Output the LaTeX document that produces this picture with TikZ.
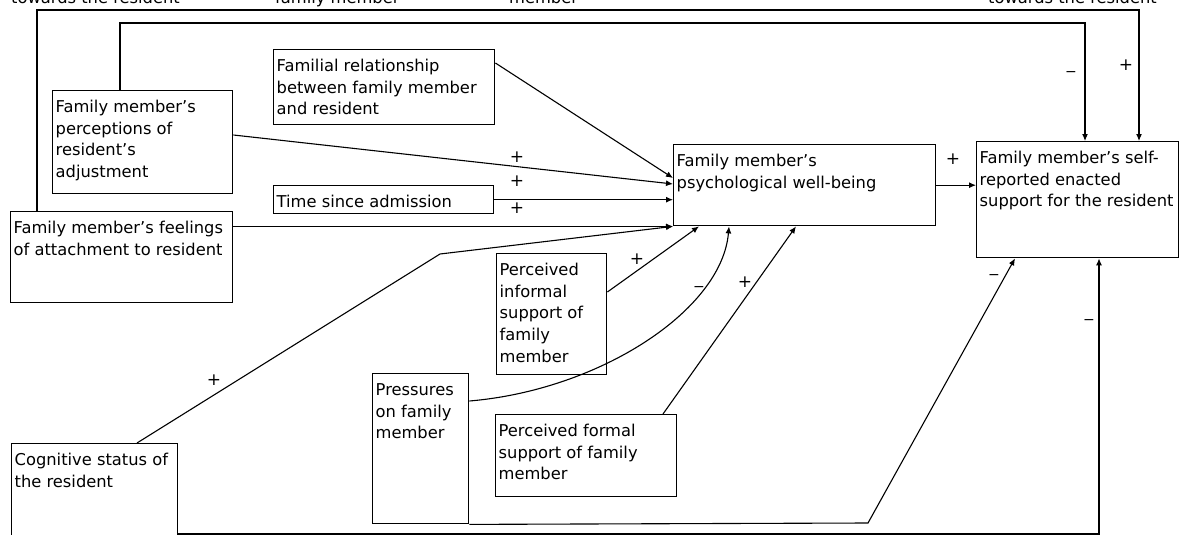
\documentclass[tikz,border=0pt]{standalone}
\usepackage{fontspec}
\setmainfont{DejaVu Sans}
\usetikzlibrary{arrows.meta}
\newcommand\boxtxt[3]{\parbox[t][#2pt][t]{\dimexpr#1pt-6pt\relax}{\raggedright\rule{0pt}{21.5pt}#3}}
\begin{document}
\begin{tikzpicture}[x=1pt,y=-1pt,
  box/.style={draw,line width=1.4pt,anchor=north west,inner xsep=3pt,inner ysep=0pt,font=\fontsize{16.3}{21.8}\selectfont},
  arr/.style={line width=1.1pt,-{Latex[length=7pt,width=6pt]}},
  sgn/.style={font=\fontsize{17}{17}\selectfont,inner sep=0pt},
  minus/.style={font=\fontsize{14}{14}\selectfont,inner sep=0pt},
  captxt/.style={anchor=base west,inner sep=0pt,font=\fontsize{16.3}{21.8}\selectfont}]
\useasboundingbox (0,0) rectangle (1179,535);
\node[captxt] (capa) at (11,4) {towards the resident};
\node[captxt] (capb) at (275,4) {family member};
\node[captxt] (capc) at (509,4) {member};
\node[captxt] (capd) at (988,4) {towards the resident};
\node[box] (fam) at (273,49) {\boxtxt{221}{75}{Familial relationship\\between family member\\and resident}};
\node[box] (perc) at (52,90) {\boxtxt{180}{103}{Family member’s\\perceptions of\\resident’s\\adjustment}};
\node[box] (time) at (273,185) {\boxtxt{220}{28}{Time since admission}};
\node[box] (feel) at (10,211) {\boxtxt{222}{91}{Family member’s feelings\\of attachment to resident}};
\node[box] (well) at (673,144) {\boxtxt{262}{81}{Family member’s\\psychological well-being}};
\node[box] (enacted) at (976,141) {\boxtxt{202}{116}{Family member’s self-\\reported enacted\\support for the resident}};
\node[box] (inf) at (496,253) {\boxtxt{110}{121}{Perceived\\informal\\support of\\family\\member}};
\node[box] (pres) at (372,373) {\boxtxt{96}{150}{Pressures\\on family\\member}};
\node[box] (form) at (495,414) {\boxtxt{181}{82}{Perceived formal\\support of family\\member}};
\node[box] (cog) at (11,443) {\boxtxt{166}{110}{Cognitive status of\\the resident}};
\coordinate (outerR) at (1139,10);
\coordinate (innerR) at (1085,23);
\coordinate (cogbend) at (440,254);
\coordinate (presbend) at (868,523);
\coordinate (botR) at (1099,534);
\draw[arr] ([xshift=27pt]feel.north west) |- (outerR) -- (outerR |- enacted.north);
\draw[arr] ([xshift=68pt]perc.north west) |- (innerR) -- (innerR |- enacted.north);
\draw[arr] ([yshift=-14pt]fam.north east) -- ([yshift=-34pt]well.north west);
\draw[arr] ([yshift=-45pt]perc.north east) -- ([yshift=-40pt]well.north west);
\draw[arr] (time.east) -- (time.east -| well.west);
\draw[arr] (well.south west -| feel.east) -- (well.south west);
\draw[arr] ([xshift=126pt]cog.north west) -- (cogbend) -- (well.south west);
\draw[arr] ([yshift=-39pt]inf.north east) -- ([xshift=26pt]well.south west);
\draw[arr] ([yshift=-28pt]pres.north east) .. controls (600,390) and (722,310) .. ([xshift=56pt]well.south west);
\draw[arr] ([xshift=168pt]form.north west) -- ([xshift=123pt]well.south west);
\draw[arr] (well.east) -- (well.east -| enacted.west);
\draw[arr] (pres.south east) -- (presbend) -- ([xshift=39pt]enacted.south west);
\draw[arr] (cog.east |- botR) -- (botR) -- (botR |- enacted.south);
\node[minus] (sa) at (1071,74) {−};
\node[sgn] (sb) at (1126,65) {+};
\node[sgn] (sc) at (517,157) {+};
\node[sgn] (sd) at (517,181) {+};
\node[sgn] (se) at (517,208) {+};
\node[sgn] (sf) at (953,159) {+};
\node[sgn] (sg) at (637,259) {+};
\node[minus] (sh) at (699,289) {−};
\node[sgn] (si) at (745,282) {+};
\node[sgn] (sj) at (214,380) {+};
\node[minus] (sk) at (994,277) {−};
\node[minus] (sl) at (1089,322) {−};
\end{tikzpicture}
\end{document}
